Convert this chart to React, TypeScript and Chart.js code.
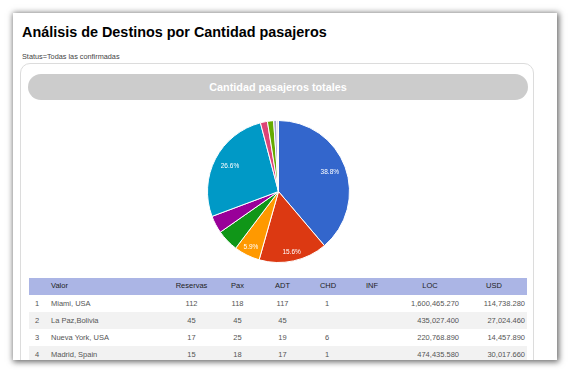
import React, { useEffect, useRef } from "react";
import { Chart, registerables } from "chart.js";

Chart.register(...registerables);

// ---- Pie data ----
const categories = [
  "Miami, USA",
  "La Paz,Bolivia",
  "Madrid, Spain",
  "Cancún, México",
  "Santa Cruz, Bolivia",
  "Nueva York, USA",
  "Lima, Perú",
  "Buenos Aires, Argentina",
  "Bogotá, Colombia",
  "Otros",
];
const paxShare = [38.8, 15.6, 5.9, 5.0, 4.0, 26.6, 1.6, 1.4, 0.7, 0.4];
const sliceColors = [
  "#3366cc",
  "#dc3912",
  "#ff9900",
  "#109618",
  "#990099",
  "#0099c6",
  "#dd4477",
  "#66aa00",
  "#aaa3cf",
  "#d8d8e8",
];

// ---- Table data ----
const tableHeaders = ["", "Valor", "Reservas", "Pax", "ADT", "CHD", "INF", "LOC", "USD"];
const destinos = ["Miami, USA", "La Paz,Bolivia", "Nueva York, USA", "Madrid, Spain"];
const reservas = ["112", "45", "17", "15"];
const pax = ["118", "45", "25", "18"];
const adt = ["117", "45", "19", "17"];
const chd = ["1", "", "6", "1"];
const inf = ["", "", "", ""];
const loc = ["1,600,465.270", "435,027.400", "220,768.890", "474,435.580"];
const usd = ["114,738.280", "27,024.460", "14,457.890", "30,017.660"];

const FONT = "'Liberation Sans', Arial, Helvetica, sans-serif";
const OX = 13;
const OY = 13;

function at(left: number, top: number, extra: React.CSSProperties = {}): React.CSSProperties {
  return { position: "absolute", left: left - OX, top: top - OY, ...extra };
}

const pctLabels = {
  id: "pctLabels",
  afterDatasetsDraw(chart: any) {
    const ctx = chart.ctx;
    const vals = chart.data.datasets[0].data as number[];
    const total = vals.reduce((a, b) => a + b, 0);
    const meta = chart.getDatasetMeta(0);
    ctx.save();
    ctx.fillStyle = "#ffffff";
    ctx.font = `6.5px ${FONT}`;
    ctx.textAlign = "center";
    ctx.textBaseline = "middle";
    meta.data.forEach((arc: any, i: number) => {
      const frac = vals[i] / total;
      const pct = frac * 100;
      if (pct < 5.5) return;
      const p = arc.getProps(["x", "y", "startAngle", "endAngle", "outerRadius"], true);
      const mid = (p.startAngle + p.endAngle) / 2;
      const r = p.outerRadius * (frac >= 0.2 ? 0.77 : 0.87);
      ctx.fillText(pct.toFixed(1) + "%", p.x + Math.cos(mid) * r, p.y + Math.sin(mid) * r);
    });
    ctx.restore();
  },
};

function PieChart() {
  const ref = useRef<HTMLCanvasElement | null>(null);
  useEffect(() => {
    if (!ref.current) return;
    const chart = new Chart(ref.current, {
      type: "pie",
      data: {
        labels: categories,
        datasets: [
          {
            data: paxShare,
            backgroundColor: sliceColors,
            borderColor: "#ffffff",
            borderWidth: 1,
          },
        ],
      },
      options: {
        animation: false,
        responsive: false,
        devicePixelRatio: 1,
        layout: { padding: 0 },
        plugins: {
          legend: { display: false },
          tooltip: { enabled: false },
        },
      },
      plugins: [pctLabels],
    });
    return () => chart.destroy();
  }, []);
  return (
    <canvas
      ref={ref}
      width={143}
      height={143}
      style={at(207, 120, { width: 143, height: 143 })}
    />
  );
}

type Col = { x: number; align: "left" | "center" | "right"; hx: number; halign: "left" | "center" };
const cols: Col[] = [
  { x: 37, align: "center", hx: 37, halign: "center" },
  { x: 51, align: "left", hx: 51, halign: "left" },
  { x: 191.5, align: "center", hx: 191.5, halign: "center" },
  { x: 237.5, align: "center", hx: 237.5, halign: "center" },
  { x: 282.5, align: "center", hx: 282.5, halign: "center" },
  { x: 327, align: "center", hx: 328, halign: "center" },
  { x: 372, align: "center", hx: 372, halign: "center" },
  { x: 459, align: "right", hx: 430, halign: "center" },
  { x: 525, align: "right", hx: 494, halign: "center" },
];

function cellStyle(x: number, align: string): React.CSSProperties {
  if (align === "left") return { position: "absolute", left: x - 29, whiteSpace: "nowrap" };
  if (align === "right")
    return { position: "absolute", left: x - 29 - 100, width: 100, textAlign: "right", whiteSpace: "nowrap" };
  return { position: "absolute", left: x - 29 - 50, width: 100, textAlign: "center", whiteSpace: "nowrap" };
}

export default function App() {
  const rows = destinos.map((d, i) => [
    String(i + 1),
    d,
    reservas[i],
    pax[i],
    adt[i],
    chd[i],
    inf[i],
    loc[i],
    usd[i],
  ]);
  const rowH = 17;
  const headTop = 278;
  const headH = 16.5;
  return (
    <div
      style={{
        position: "fixed",
        left: 0,
        top: 0,
        width: 569,
        height: 370,
        background: "#ffffff",
        fontFamily: FONT,
        overflow: "hidden",
      }}
    >
      <div
        style={{
          position: "absolute",
          left: OX,
          top: OY,
          width: 544,
          height: 347,
          background: "#ffffff",
          boxShadow: "1px 1px 6px 1px rgba(0,0,0,0.6)",
          overflow: "hidden",
        }}
      >
        <div
          style={at(22, 24.8, {
            fontSize: 14.4,
            lineHeight: "14.4px",
            fontWeight: "bold",
            color: "#000",
            whiteSpace: "nowrap",
          })}
        >
          Análisis de Destinos por Cantidad pasajeros
        </div>
        <div
          style={at(22, 53.4, {
            fontSize: 7.3,
            lineHeight: "7.3px",
            color: "#444",
            whiteSpace: "nowrap",
          })}
        >
          Status=Todas las confirmadas
        </div>

        <div
          style={at(20, 63, {
            width: 514,
            height: 330,
            border: "1px solid #dcdcdc",
            borderRadius: 10,
            boxSizing: "border-box",
          })}
        />

        <div
          style={at(28, 74, {
            width: 500,
            height: 26,
            borderRadius: 13,
            background: "#cccccc",
            color: "#ffffff",
            fontWeight: "bold",
            fontSize: 10.8,
            lineHeight: "26px",
            textAlign: "center",
            whiteSpace: "nowrap",
          })}
        >
          Cantidad pasajeros totales
        </div>

        <PieChart />

        <div
          style={at(29, headTop, {
            width: 498,
            height: headH,
            background: "#abb5e5",
            color: "#222",
            fontSize: 7.5,
            lineHeight: `${headH}px`,
          })}
        >
          {tableHeaders.map((h, c) => (
            <span key={c} style={cellStyle(cols[c].hx, cols[c].halign)}>
              {h}
            </span>
          ))}
        </div>
        {rows.map((r, i) => (
          <div
            key={i}
            style={at(29, headTop + headH + i * rowH, {
              width: 498,
              height: rowH,
              background: i % 2 === 1 ? "#f2f2f2" : "#ffffff",
              color: "#555",
              fontSize: 7.5,
              lineHeight: `${rowH}px`,
            })}
          >
            {r.map((v, c) => (
              <span key={c} style={cellStyle(cols[c].x, cols[c].align)}>
                {v}
              </span>
            ))}
          </div>
        ))}
      </div>
    </div>
  );
}
